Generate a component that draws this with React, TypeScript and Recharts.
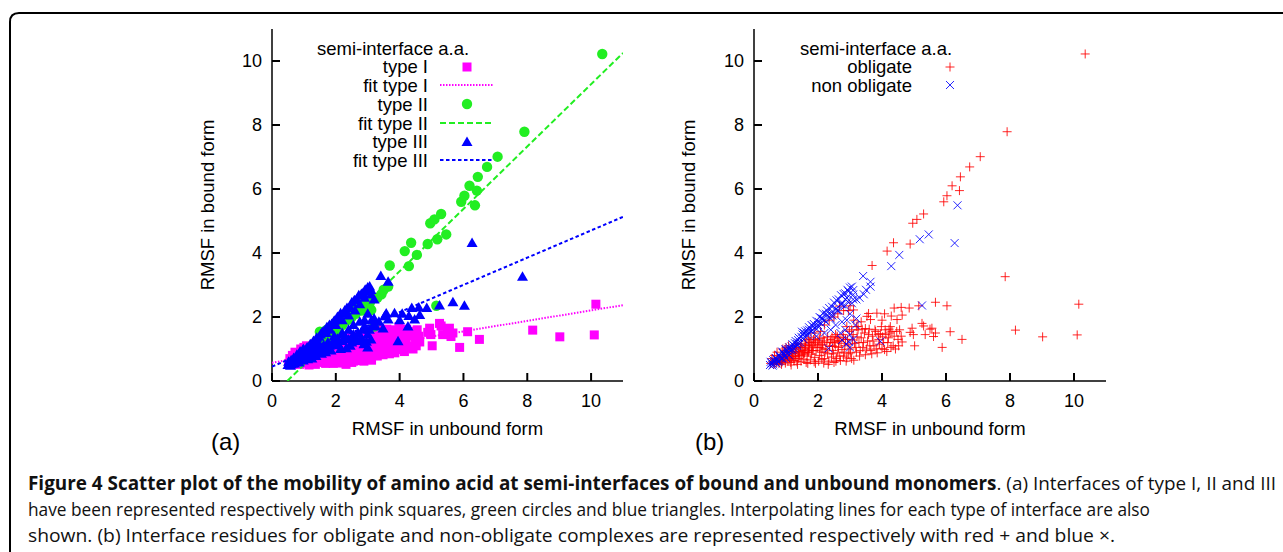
import React from "react";
import { ScatterChart, Scatter, XAxis, YAxis, Legend } from "recharts";

type P = [number, number];

const axisTicks = [0, 2, 4, 6, 8, 10];

// (a) type I interfaces, pink squares
const typeI: P[] = [
  [0.52, 0.55], [0.56, 0.7], [0.58, 0.6], [0.62, 0.52], [0.64, 0.8], [0.66, 0.66], [0.7, 0.58], [0.72, 0.9],
  [0.74, 0.7], [0.78, 0.55], [0.8, 0.64], [0.84, 0.75], [0.86, 0.52], [0.88, 0.6], [0.9, 0.82], [0.9, 1.0],
  [0.94, 0.68], [0.96, 0.95], [0.98, 0.56], [1.0, 0.9], [1.0, 1.05], [1.03, 0.74], [1.06, 0.62], [1.08, 1.1],
  [1.1, 0.8], [1.12, 0.95], [1.15, 0.58], [1.16, 0.5], [1.18, 0.7], [1.2, 1.02], [1.22, 0.86], [1.25, 0.64],
  [1.28, 1.0], [1.3, 0.76], [1.32, 1.15], [1.34, 0.6], [1.36, 0.52], [1.38, 0.9], [1.4, 0.7], [1.42, 0.8],
  [1.44, 1.05], [1.47, 0.62], [1.48, 1.18], [1.5, 0.82], [1.53, 0.95], [1.56, 0.68], [1.58, 0.88], [1.6, 1.1],
  [1.62, 1.25], [1.63, 0.58], [1.66, 0.78], [1.68, 0.55], [1.7, 0.9], [1.73, 1.0], [1.74, 1.2], [1.76, 0.66],
  [1.8, 0.84], [1.82, 0.95], [1.84, 1.12], [1.86, 1.3], [1.88, 0.6], [1.9, 0.74], [1.92, 0.55], [1.94, 0.95],
  [1.98, 1.05], [2.0, 1.28], [2.02, 0.62], [2.05, 0.8], [2.06, 1.05], [2.1, 0.9], [2.12, 0.68], [2.14, 1.15],
  [2.16, 1.35], [2.18, 0.56], [2.2, 0.7], [2.22, 0.9], [2.25, 1.0], [2.28, 1.2], [2.3, 0.85], [2.32, 0.52],
  [2.34, 0.62], [2.36, 1.08], [2.38, 1.2], [2.42, 0.75], [2.44, 1.38], [2.46, 0.95], [2.48, 0.85], [2.5, 0.58],
  [2.52, 1.25], [2.54, 1.08], [2.56, 0.62], [2.58, 0.7], [2.6, 1.4], [2.62, 0.88], [2.64, 1.05], [2.66, 1.25],
  [2.68, 0.78], [2.7, 0.64], [2.72, 1.18], [2.75, 0.98], [2.78, 1.45], [2.8, 0.78], [2.82, 0.9], [2.84, 1.1],
  [2.86, 1.3], [2.88, 0.62], [2.9, 0.72], [2.92, 1.3], [2.94, 1.15], [2.96, 0.85], [2.98, 1.55], [3.0, 1.0],
  [3.02, 0.88], [3.05, 0.7], [3.08, 1.28], [3.1, 1.45], [3.12, 0.65], [3.14, 1.18], [3.18, 1.05], [3.2, 0.9],
  [3.22, 1.38], [3.25, 1.6], [3.28, 1.2], [3.3, 0.78], [3.32, 0.95], [3.35, 1.35], [3.38, 1.62], [3.4, 1.05],
  [3.42, 1.2], [3.45, 1.5], [3.48, 0.82], [3.52, 1.0], [3.55, 1.25], [3.58, 1.45], [3.6, 1.62], [3.62, 1.1],
  [3.65, 0.95], [3.68, 0.85], [3.7, 1.4], [3.72, 1.25], [3.75, 1.1], [3.78, 1.6], [3.8, 1.55], [3.82, 1.0],
  [3.85, 0.88], [3.88, 1.45], [3.9, 1.3], [3.92, 1.15], [3.95, 1.48], [3.98, 1.7], [4.0, 1.02], [4.02, 1.38],
  [4.05, 1.2], [4.08, 0.98], [4.1, 1.6], [4.12, 1.45], [4.15, 0.92], [4.18, 1.2], [4.2, 1.35], [4.22, 1.62],
  [4.25, 1.5], [4.28, 1.05], [4.31, 1.55], [4.35, 1.1], [4.38, 1.4], [4.42, 1.0], [4.46, 1.55], [4.5, 1.3],
  [4.52, 1.1], [4.55, 1.6], [4.6, 1.4], [4.63, 1.22], [4.88, 1.52], [4.94, 1.65], [4.98, 1.45], [5.02, 1.1],
  [5.25, 1.8], [5.3, 1.72], [5.35, 1.45], [5.5, 1.62], [5.56, 1.65], [5.61, 1.39], [5.67, 1.5], [5.88, 1.05],
  [6.13, 1.54], [6.5, 1.3], [8.17, 1.59], [9.02, 1.38], [10.1, 1.44], [10.15, 2.4],
];

// (a) type II interfaces, green circles (split by how they appear in (b))
const typeIIObligate: P[] = [
  [10.35, 10.22], [7.91, 7.79], [7.07, 7.01], [6.74, 6.69], [6.45, 6.38], [6.19, 6.1], [6.42, 5.95], [6.03, 5.79],
  [5.93, 5.6], [5.3, 5.22], [5.09, 5.05], [4.96, 4.93], [4.88, 4.28], [4.36, 4.32], [4.16, 4.06], [3.69, 3.61],
  [5.15, 2.35], [3.11, 2.22], [2.67, 2.34], [0.8, 0.62], [0.9, 0.7], [0.95, 0.78], [1.0, 0.82], [1.1, 0.75],
  [1.3, 0.9], [1.45, 1.05], [1.6, 1.15], [1.7, 1.3], [1.78, 1.35], [1.9, 1.5], [2.08, 1.55], [2.2, 1.75],
  [2.35, 1.9], [2.5, 2.0], [2.62, 2.1], [2.8, 2.2], [2.95, 2.2], [3.0, 2.35], [3.2, 1.7],
];
const typeIINonObligate: P[] = [
  [6.36, 5.49], [5.46, 4.58], [5.18, 4.43], [4.54, 3.94], [4.29, 3.59], [3.64, 2.95], [3.43, 2.71], [2.93, 2.48],
  [1.05, 0.95], [1.15, 1.0], [1.2, 0.98], [1.25, 1.1], [1.35, 1.15], [1.38, 1.2], [1.5, 1.54], [1.55, 1.3],
  [1.58, 1.4], [1.66, 1.45], [1.72, 1.6], [1.8, 1.55], [1.85, 1.7], [1.96, 1.62], [2.0, 1.7], [2.02, 1.85],
  [2.1, 1.8], [2.15, 1.95], [2.25, 1.85], [2.28, 2.05], [2.4, 1.95], [2.42, 2.15], [2.45, 2.05], [2.56, 2.25],
  [2.65, 2.2], [2.72, 2.4], [2.85, 2.35], [2.86, 2.55], [3.06, 2.43], [3.1, 2.55], [3.3, 2.6], [3.5, 2.85],
];

// (a) type III interfaces, blue triangles
const typeIIIObligate: P[] = [
  [7.85, 3.26], [6.03, 2.35], [5.67, 2.46], [4.85, 2.28], [4.6, 2.3], [4.38, 2.28], [4.63, 2.06], [4.47, 1.92],
  [4.29, 2.03], [4.08, 2.1], [4.0, 1.9], [3.84, 2.12], [3.64, 1.92], [3.53, 2.02], [3.48, 1.64], [4.26, 1.7],
  [3.58, 2.11], [3.35, 1.85], [3.25, 1.7], [3.12, 1.9], [3.05, 1.6], [2.9, 1.7], [0.65, 0.55], [0.72, 0.62],
  [0.78, 0.7], [0.85, 0.58], [0.92, 0.76], [0.98, 0.64], [1.05, 0.9], [1.12, 0.68], [1.18, 0.92], [1.2, 0.78],
  [1.25, 0.7], [1.3, 0.85], [1.32, 1.0], [1.38, 0.78], [1.4, 0.92], [1.45, 1.05], [1.5, 0.95], [1.55, 0.85],
  [1.6, 1.0], [1.62, 1.12], [1.68, 0.9], [1.7, 1.05], [1.75, 1.2], [1.8, 1.1], [1.85, 0.95], [1.9, 1.15],
  [1.92, 1.25], [2.0, 1.2], [2.05, 1.32], [2.1, 1.12], [2.15, 1.0], [2.2, 1.25], [2.3, 1.38], [2.4, 1.3],
  [2.45, 1.1], [2.5, 1.2], [2.55, 1.45], [2.6, 1.35], [2.65, 1.25], [2.8, 1.35],
];
const typeIIINonObligate: P[] = [
  [6.27, 4.31], [3.41, 3.28], [3.64, 3.1], [3.1, 2.84], [5.25, 2.36], [3.95, 1.24], [3.17, 1.75], [0.5, 0.5],
  [0.52, 0.6], [0.55, 0.56], [0.58, 0.48], [0.6, 0.52], [0.62, 0.58], [0.65, 0.62], [0.68, 0.72], [0.7, 0.68],
  [0.72, 0.64], [0.75, 0.6], [0.78, 0.82], [0.8, 0.78], [0.82, 0.74], [0.85, 0.7], [0.88, 0.92], [0.9, 0.88],
  [0.93, 0.84], [0.95, 0.8], [0.98, 1.0], [1.0, 0.96], [1.05, 0.85], [1.08, 1.0], [1.1, 1.05], [1.15, 0.95],
  [1.18, 1.08], [1.2, 1.15], [1.25, 1.02], [1.28, 1.18], [1.3, 1.25], [1.35, 1.1], [1.38, 1.28], [1.4, 1.35],
  [1.45, 1.2], [1.48, 1.38], [1.52, 1.45], [1.56, 1.5], [1.6, 1.55], [1.66, 1.58], [1.7, 1.5], [1.72, 1.68],
  [1.8, 1.75], [1.82, 1.6], [1.87, 1.78], [1.95, 1.88], [2.0, 1.75], [2.05, 2.0], [2.1, 1.96], [2.15, 2.12],
  [2.2, 1.9], [2.25, 2.1], [2.28, 2.2], [2.35, 2.28], [2.4, 2.05], [2.44, 2.32], [2.5, 2.45], [2.58, 2.52],
  [2.6, 2.2], [2.65, 2.55], [2.72, 2.68], [2.75, 2.4], [2.8, 2.72], [2.85, 2.74], [2.9, 2.6], [2.92, 2.85],
  [2.95, 2.8], [3.0, 2.92], [3.06, 2.95], [3.1, 2.7], [3.2, 2.55], [3.0, 2.1], [2.96, 1.23], [2.75, 1.28],
  [2.33, 1.02], [3.0, 1.45], [2.7, 1.5], [2.85, 1.6], [2.4, 1.6], [2.55, 1.75], [2.2, 1.5], [1.95, 1.4],
  [3.2, 1.95], [2.75, 1.85], [2.9, 1.9], [3.1, 1.3], [3.0, 1.05], [2.88, 1.15], [0.6, 0.65], [0.7, 0.55],
  [0.8, 0.62], [0.9, 0.7], [1.0, 0.72], [1.1, 0.8],
];

// fitted lines (end points of each interpolation)
const fitTypeI: P[] = [[0, 0.57], [11, 2.37]];
const fitTypeII: P[] = [[0.48, 0], [11, 10.25]];
const fitTypeIII: P[] = [[0, 0.45], [11, 5.13]];

const pts = (a: P[]) => a.map(([x, y]) => ({ x, y }));

const typeII = [...typeIIObligate, ...typeIINonObligate];
const typeIII = [...typeIIIObligate, ...typeIIINonObligate];
// (b) the same residues, grouped by complex type
const obligate = [...typeI, ...typeIIObligate, ...typeIIIObligate];
const nonObligate = [...typeIINonObligate, ...typeIIINonObligate];

const PINK = "#ff00ff";
const GREEN = "#22ee22";
const BLUE = "#0000ff";
const RED = "#ff0000";
const FONT = "'Liberation Sans', Arial, sans-serif";

const Square = (p: any) => <rect x={p.cx - 4.5} y={p.cy - 4.5} width={9} height={9} fill={PINK} />;
const Dot = (p: any) => <circle cx={p.cx} cy={p.cy} r={5.2} fill={GREEN} />;
const Tri = (p: any) => (
  <path d={`M${p.cx},${p.cy - 5.5}L${p.cx + 5.5},${p.cy + 4}L${p.cx - 5.5},${p.cy + 4}Z`} fill={BLUE} />
);
const Plus = (p: any) => (
  <path d={`M${p.cx - 4.5},${p.cy}h9M${p.cx},${p.cy - 4.5}v9`} stroke={RED} strokeWidth={1} strokeOpacity={0.85} />
);
const Cross = (p: any) => (
  <path d={`M${p.cx - 4},${p.cy - 4}l8,8M${p.cx - 4},${p.cy + 4}l8,-8`} stroke={BLUE} strokeWidth={1} strokeOpacity={0.85} />
);
const NoShape = () => <g />;

const tickStyle = { fill: "#000", fontSize: 18, fontFamily: FONT };
const lineStyle = { stroke: "#000", strokeWidth: 1.5 };
const tickLineStyle = { stroke: "#000", strokeWidth: 2 };
const blank = () => "";

const frameAxes = (yLabelOffset: number) => [
  <XAxis
    key="xb"
    type="number"
    dataKey="x"
    domain={[0, 11]}
    ticks={axisTicks}
    interval={0}
    allowDataOverflow
    height={40}
    tickSize={-8}
    tickMargin={21}
    axisLine={lineStyle}
    tickLine={tickLineStyle}
    tick={tickStyle}
    label={{ value: "RMSF in unbound form", position: "bottom", offset: 1, style: { fontSize: 18.5, fill: "#000", fontFamily: FONT } }}
  />,
  <XAxis
    key="xt"
    xAxisId="top"
    orientation="top"
    type="number"
    domain={[0, 11]}
    ticks={axisTicks}
    interval={0}
    allowDataOverflow
    height={0}
    tickSize={-8}
    axisLine={lineStyle}
    tickLine={tickLineStyle}
    tickFormatter={blank}
  />,
  <YAxis
    key="yl"
    type="number"
    dataKey="y"
    domain={[0, 11]}
    ticks={axisTicks}
    interval={0}
    allowDataOverflow
    width={70}
    tickSize={-8}
    tickMargin={18}
    axisLine={lineStyle}
    tickLine={tickLineStyle}
    tick={tickStyle}
    label={{
      value: "RMSF in bound form",
      angle: -90,
      position: "insideLeft",
      offset: yLabelOffset,
      style: { textAnchor: "middle", fontSize: 18.5, fill: "#000", fontFamily: FONT },
    }}
  />,
  <YAxis
    key="yr"
    yAxisId="right"
    orientation="right"
    type="number"
    domain={[0, 11]}
    ticks={axisTicks}
    interval={0}
    allowDataOverflow
    width={0}
    tickSize={-8}
    axisLine={lineStyle}
    tickLine={tickLineStyle}
    tickFormatter={blank}
  />,
];

const ROW_H = 18.7;

const legendText = (text: string, right: number, yc: number, key: string) => (
  <div key={key} style={{ position: "absolute", left: 0, width: right, textAlign: "right", top: yc - 9.3, whiteSpace: "nowrap" }}>
    {text}
  </div>
);

const LegendA = () => {
  const rows: { label: string; sample: React.ReactNode }[] = [
    { label: "type I", sample: <Square cx={27} cy={6} /> },
    { label: "fit type I", sample: <line x1={0} x2={54} y1={6} y2={6} stroke={PINK} strokeWidth={2} strokeDasharray="1.5 1.5" /> },
    { label: "type II", sample: <Dot cx={27} cy={6} /> },
    { label: "fit type II", sample: <line x1={0} x2={54} y1={6} y2={6} stroke={GREEN} strokeWidth={2} strokeDasharray="6 3" /> },
    { label: "type III", sample: <Tri cx={27} cy={6} /> },
    { label: "fit type III", sample: <line x1={0} x2={54} y1={6} y2={6} stroke={BLUE} strokeWidth={2} strokeDasharray="3.5 2.5" /> },
  ];
  return (
    <div style={{ position: "relative", width: 640, height: 200, fontSize: 18.5, lineHeight: "19px", color: "#000", fontFamily: FONT }}>
      <div style={{ position: "absolute", left: 317, top: 48 - 9.3, whiteSpace: "nowrap" }}>semi-interface a.a.</div>
      {rows.map((r, i) => {
        const yc = 66.7 + i * ROW_H;
        return (
          <React.Fragment key={r.label}>
            {legendText(r.label, 428, yc, "t" + i)}
            <svg style={{ position: "absolute", left: 440, top: yc - 6 }} width={54} height={12} overflow="visible">
              {r.sample}
            </svg>
          </React.Fragment>
        );
      })}
    </div>
  );
};

const LegendB = () => {
  const rows: { label: string; sample: React.ReactNode }[] = [
    { label: "obligate", sample: <Plus cx={10} cy={6} /> },
    { label: "non obligate", sample: <Cross cx={10} cy={6} /> },
  ];
  return (
    <div style={{ position: "relative", width: 480, height: 120, fontSize: 18.5, lineHeight: "19px", color: "#000", fontFamily: FONT }}>
      <div style={{ position: "absolute", left: 160, top: 48 - 9.3, whiteSpace: "nowrap" }}>semi-interface a.a.</div>
      {rows.map((r, i) => {
        const yc = 66.7 + i * ROW_H;
        return (
          <React.Fragment key={r.label}>
            {legendText(r.label, 272, yc, "t" + i)}
            <svg style={{ position: "absolute", left: 300, top: yc - 6 }} width={20} height={12} overflow="visible">
              {r.sample}
            </svg>
          </React.Fragment>
        );
      })}
    </div>
  );
};

const legendProps = {
  layout: "vertical" as const,
  align: "center" as const,
  verticalAlign: "middle" as const,
};

const captionStyle = { fontFamily: "'Open Sans', sans-serif", fontSize: 19, fill: "#111" };

export default function App() {
  return (
    <div style={{ position: "absolute", left: 0, top: 0, width: 1283, height: 552, background: "#fff", overflow: "hidden", fontFamily: FONT }}>
      <svg style={{ position: "absolute", left: 0, top: 0 }} width={1283} height={552}>
        <path d="M10,560 V22 Q10,13 19,13 H1290" fill="none" stroke="#000" strokeWidth={2} />
        <text x={211} y={450} fontSize={24} fontFamily={FONT}>(a)</text>
        <text x={695} y={450} fontSize={24} fontFamily={FONT}>(b)</text>
        <text x={28} y={490} {...captionStyle} textLength={1248} lengthAdjust="spacingAndGlyphs">
          <tspan fontWeight={700}>Figure 4 Scatter plot of the mobility of amino acid at semi-interfaces of bound and unbound monomers</tspan>
          <tspan>. (a) Interfaces of type I, II and III</tspan>
        </text>
        <text x={28} y={516} {...captionStyle} textLength={1122} lengthAdjust="spacingAndGlyphs">
          have been represented respectively with pink squares, green circles and blue triangles. Interpolating lines for each type of interface are also
        </text>
        <text x={28} y={542} {...captionStyle} textLength={1087} lengthAdjust="spacingAndGlyphs">
          shown. (b) Interface residues for obligate and non-obligate complexes are represented respectively with red + and blue ×.
        </text>
      </svg>

      <div style={{ position: "absolute", left: 0, top: 0 }}>
        <ScatterChart width={640} height={450} margin={{ top: 29, right: 17, bottom: 29, left: 202 }}>
          {frameAxes(5)}
          <Scatter data={pts(typeI)} shape={Square} isAnimationActive={false} />
          <Scatter data={pts(fitTypeI)} shape={NoShape} line={{ stroke: PINK, strokeWidth: 2, strokeDasharray: "1.5 1.5" }} isAnimationActive={false} />
          <Scatter data={pts(typeII)} shape={Dot} isAnimationActive={false} />
          <Scatter data={pts(fitTypeII)} shape={NoShape} line={{ stroke: GREEN, strokeWidth: 2, strokeDasharray: "6 3" }} isAnimationActive={false} />
          <Scatter data={pts(typeIII)} shape={Tri} isAnimationActive={false} />
          <Scatter data={pts(fitTypeIII)} shape={NoShape} line={{ stroke: BLUE, strokeWidth: 2, strokeDasharray: "3.5 2.5" }} isAnimationActive={false} />
          <Legend {...legendProps} content={<LegendA />} wrapperStyle={{ left: 0, top: 0, width: 640, height: 200 }} />
        </ScatterChart>
      </div>

      <div style={{ position: "absolute", left: 640, top: 0 }}>
        <ScatterChart width={480} height={450} margin={{ top: 29, right: 14, bottom: 29, left: 44 }}>
          {frameAxes(4)}
          <Scatter data={pts(obligate)} shape={Plus} isAnimationActive={false} />
          <Scatter data={pts(nonObligate)} shape={Cross} isAnimationActive={false} />
          <Legend {...legendProps} content={<LegendB />} wrapperStyle={{ left: 0, top: 0, width: 480, height: 120 }} />
        </ScatterChart>
      </div>
    </div>
  );
}
